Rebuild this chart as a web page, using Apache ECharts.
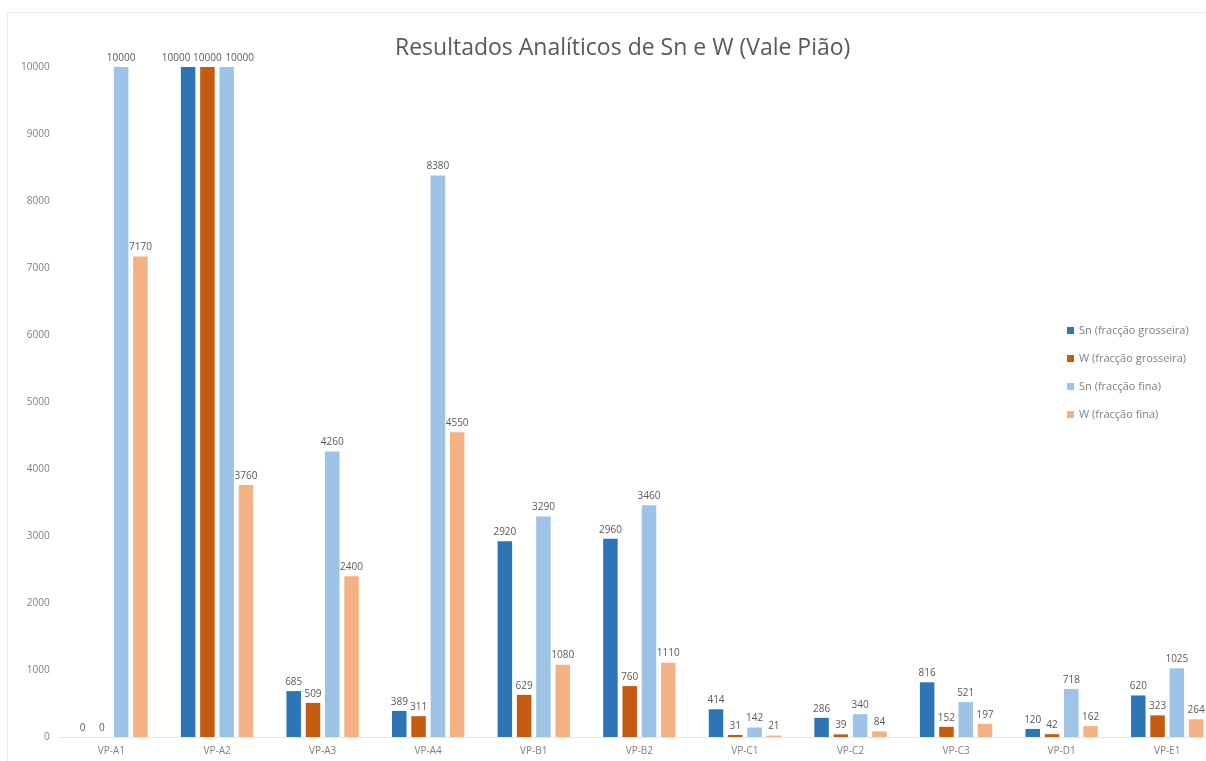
<!DOCTYPE html>
<html><head><meta charset="utf-8">
<script src="https://cdn.jsdelivr.net/npm/echarts@6/dist/echarts.min.js"></script>
<style>html,body{margin:0;padding:0;background:#fff}#c{width:1206px;height:761px}</style>
</head><body><div id="c"></div>
<script>
const categories = ['VP-A1','VP-A2','VP-A3','VP-A4','VP-B1','VP-B2','VP-C1','VP-C2','VP-C3','VP-D1','VP-E1'];
const snGrosseira = [0, 10000, 685, 389, 2920, 2960, 414, 286, 816, 120, 620];
const wGrosseira  = [0, 10000, 509, 311, 629, 760, 31, 39, 152, 42, 323];
const snFina      = [10000, 10000, 4260, 8380, 3290, 3460, 142, 340, 521, 718, 1025];
const wFina       = [7170, 3760, 2400, 4550, 1080, 1110, 21, 84, 197, 162, 264];
const seriesNames = ['Sn (fracção grosseira)','W (fracção grosseira)','Sn (fracção fina)','W (fracção fina)'];
const colors = ['#2E75B6','#C55A11','#9DC3E6','#F4B183'];
const seriesData = [snGrosseira, wGrosseira, snFina, wFina];
// label nudges to avoid overlap (style only): [seriesIndex, dataIndex, dx]
const labelNudges = [[0,1,-12],[2,1,13]];

const chart = echarts.init(document.getElementById('c'), null, {renderer:'canvas'});
chart.setOption({
  animation:false,
  backgroundColor:'#fff',
  graphic:[{type:'rect', shape:{x:7.5, y:12.5, width:1260, height:800},
    style:{fill:'none', stroke:'#ececec', lineWidth:1}, silent:true}],
  title:{text:'Resultados Analíticos de Sn e W (Vale Pião)', left:390, top:32,
    textStyle:{fontFamily:'Open Sans', fontSize:23, fontWeight:'normal', color:'#595959'}},
  legend:{orient:'vertical', left:1062, top:320, itemGap:17, itemWidth:7, itemHeight:7, icon:'rect',
    textStyle:{fontFamily:'Open Sans', fontSize:11, color:'#7f7f7f'}, data:seriesNames},
  grid:{left:58.7, top:67, right:-14, bottom:24, containLabel:false, outerBoundsMode:'none'},
  xAxis:{type:'category', data:categories,
    axisLine:{show:true, lineStyle:{color:'#e6e6e6'}}, axisTick:{show:false},
    axisLabel:{fontFamily:'Open Sans', fontSize:10, color:'#7f7f7f', margin:9}},
  yAxis:{type:'value', min:0, max:10000, interval:1000,
    axisLine:{show:false}, axisTick:{show:false}, splitLine:{show:false},
    axisLabel:{fontFamily:'Open Sans', fontSize:10, color:'#7f7f7f', margin:9, formatter:v=>String(v)}},
  series: seriesData.map((d,i)=>({
    name:seriesNames[i], type:'bar', barWidth:14.5, barGap:'33%',
    data:d.map((v,j)=>{
      const n = labelNudges.find(a=>a[0]===i && a[1]===j);
      return n ? {value:v, label:{offset:[n[2],0]}} : v;
    }),
    itemStyle:{color:colors[i]},
    label:{show:true, position:'top', distance:4, fontFamily:'Open Sans', fontSize:10, color:'#595959'}
  }))
});
</script></body></html>
